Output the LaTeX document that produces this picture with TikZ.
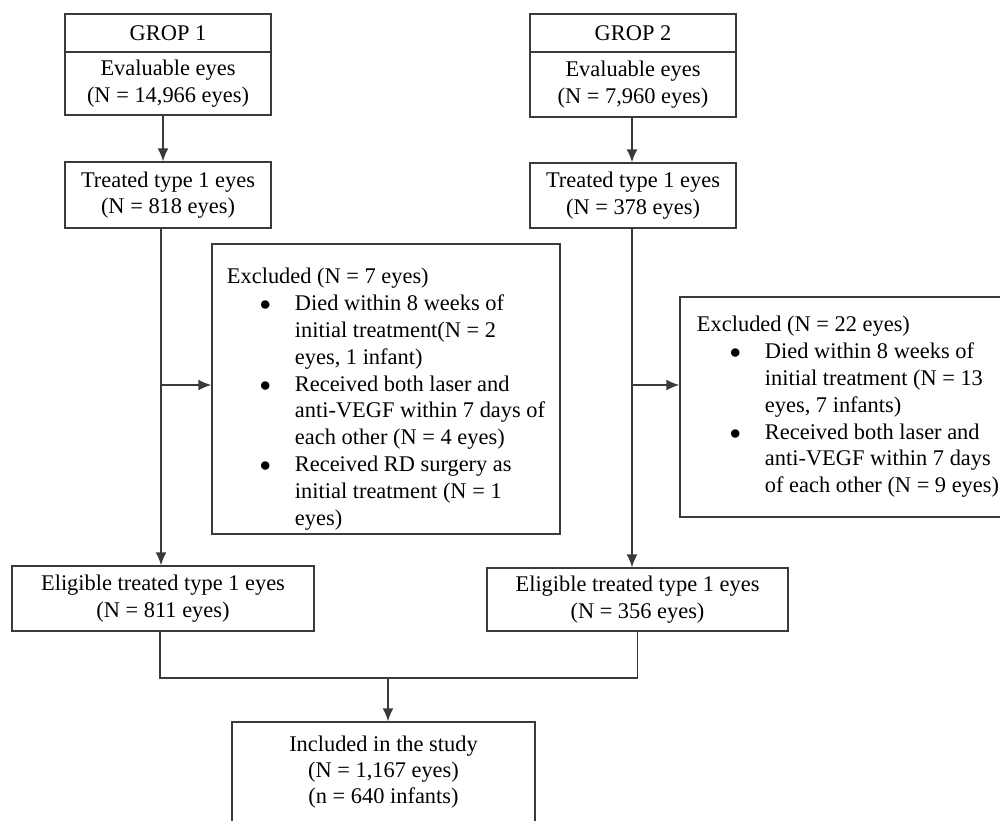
\documentclass[tikz,border=0pt]{standalone}
\usepackage{fontspec}
\setmainfont{Liberation Serif}
\usepackage{xcolor}
\usetikzlibrary{arrows.meta}
\definecolor{boxline}{HTML}{3a3a3a}
\newcommand{\itm}{\hspace*{16.5pt}\makebox[17.5pt][l]{$\bullet$}}
\newcommand{\ind}{\hspace*{34pt}}

\begin{document}
\begin{tikzpicture}[x = 0.5pt, y = -0.5pt,
        box/.style = {draw = boxline, line width = 0.75pt, rectangle, inner sep = 2pt,
                      font = \fontsize{11.2}{13.2}\selectfont, align = center},
        excl/.style = {box, align = left, font = \fontsize{11.2}{13.4}\selectfont},
        > = {Latex[length = 6.5pt, width = 5.5pt]}]
        \useasboundingbox (0, 0) rectangle (1000, 820);

        % Nodes
        \node [box, minimum width = 103pt, minimum height = 19pt] (g1) at (168, 33) {GROP 1};
        \node [box, minimum width = 103pt, minimum height = 31.5pt] (e1) at (168, 83.5) {Evaluable eyes\\(N = 14,966 eyes)};
        \node [box, minimum width = 103pt, minimum height = 33pt] (t1) at (168, 195) {Treated type 1 eyes\\(N = 818 eyes)};
        \node [box, minimum width = 103pt, minimum height = 19pt] (g2) at (633, 33) {GROP 2};
        \node [box, minimum width = 103pt, minimum height = 32.5pt] (e2) at (633, 84.5) {Evaluable eyes\\(N = 7,960 eyes)};
        \node [box, minimum width = 103pt, minimum height = 32.5pt] (t2) at (633, 195.5) {Treated type 1 eyes\\(N = 378 eyes)};

        \node [excl, minimum width = 174pt, minimum height = 145pt] (ex1) at (386, 389) {\rule{0pt}{18pt}Excluded (N = 7 eyes)\\
                \itm Died within 8 weeks of\\
                \ind initial treatment(N = 2\\
                \ind eyes, 1 infant)\\
                \itm Received both laser and\\
                \ind anti-VEGF within 7 days of\\
                \ind each other (N = 4 eyes)\\
                \itm Received RD surgery as\\
                \ind initial treatment (N = 1\\
                \ind eyes)};
        \node [excl, minimum width = 168pt, minimum height = 110pt] (ex2) at (848, 407) {Excluded (N = 22 eyes)\\
                \itm Died within 8 weeks of\\
                \ind initial treatment (N = 13\\
                \ind eyes, 7 infants)\\
                \itm Received both laser and\\
                \ind anti-VEGF within 7 days\\
                \ind of each other (N = 9 eyes)};

        \node [box, minimum width = 151pt, minimum height = 32.5pt] (el1) at (163, 598.5) {Eligible treated type 1 eyes\\(N = 811 eyes)};
        \node [box, minimum width = 150.5pt, minimum height = 31.5pt] (el2) at (637.5, 599.5) {Eligible treated type 1 eyes\\(N = 356 eyes)};
        \node [box, minimum width = 151.5pt, minimum height = 50pt] (incl) at (383.5, 772) {Included in the study\\(N = 1,167 eyes)\\(n = 640 infants)};

        % Draw the links
        \coordinate (v1) at ([xshift = -3.5pt]t1.south);
        \coordinate (v2) at ([xshift = -0.5pt]t2.south);
        \coordinate (m) at (388, 678);
        \draw [->, line width = 0.75pt, color = boxline] ([xshift = -2.5pt]e1.south) -- ([xshift = -2.5pt]t1.north);
        \draw [->, line width = 0.75pt, color = boxline] ([xshift = -0.5pt]e2.south) -- ([xshift = -0.5pt]t2.north);
        \draw [->, line width = 0.75pt, color = boxline] (v1) -- (v1 |- el1.north);
        \draw [->, line width = 0.75pt, color = boxline] (v2) -- (v2 |- el2.north);
        \draw [->, line width = 0.75pt, color = boxline] (v1 |- ex1.west) ++(0, -4) -- ([yshift = 2pt]ex1.west);
        \draw [->, line width = 0.75pt, color = boxline] (v2 |- ex2.west) ++(0, -22) -- ([yshift = 11pt]ex2.west);
        \draw [line width = 0.75pt, color = boxline] ([xshift = -1.5pt]el1.south) |- (m) -| (el2.south);
        \draw [->, line width = 0.75pt, color = boxline] (m) -- (m |- incl.north);

    \end{tikzpicture}
\end{document}
